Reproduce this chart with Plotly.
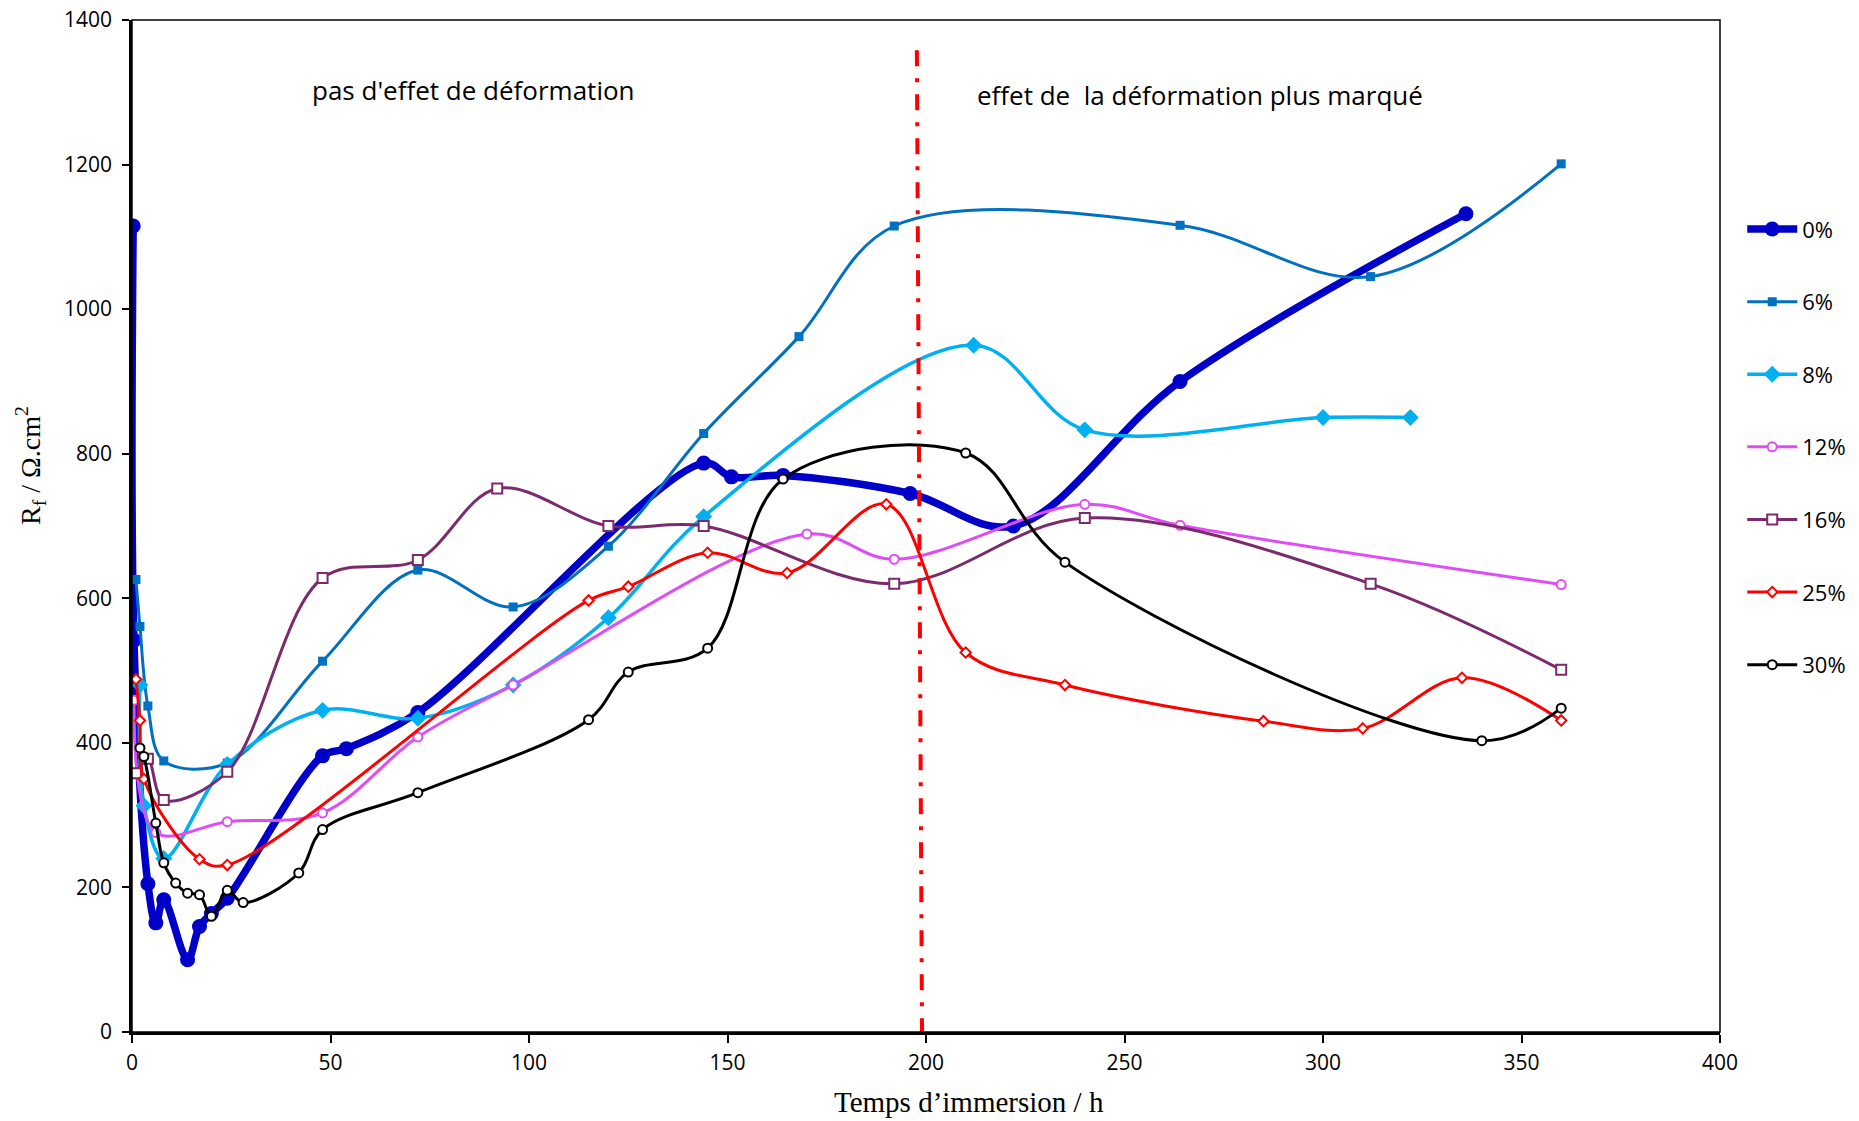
import plotly.graph_objects as go

# ---- data (time in h, Rf in ohm.cm2) ----
t_0 = [0.3, 0.5, 4, 6, 8, 14, 17, 20, 24, 48, 54, 72, 144, 151, 164, 196, 222, 264, 336]
r_0 = [1115, 542, 205, 151, 183, 100, 146, 164, 185, 382, 392, 442, 787, 768, 770, 745, 700, 900, 1132]

t_6 = [1, 2, 4, 8, 24, 48, 72, 96, 120, 144, 168, 192, 264, 312, 360]
r_6 = [626, 561, 451, 375, 372, 513, 639, 588, 672, 828, 962, 1115, 1116, 1045, 1201]

t_8 = [2, 3, 8, 24, 48, 72, 96, 120, 144, 212, 240, 300, 322]
r_8 = [480, 313, 240, 370, 445, 434, 480, 573, 713, 950, 833, 850, 850]

t_12 = [0.5, 6, 24, 48, 72, 96, 170, 192, 240, 264, 360]
r_12 = [459, 276, 291, 303, 408, 480, 689, 654, 730, 701, 619]

t_16 = [1, 4, 8, 24, 48, 72, 92, 120, 144, 192, 240, 312, 360]
r_16 = [358, 378, 321, 360, 628, 653, 752, 700, 700, 620, 711, 620, 501]

t_25 = [1, 2, 3, 17, 24, 115, 125, 145, 165, 190, 210, 235, 285, 310, 335, 360]
r_25 = [488, 431, 350, 239, 231, 597, 616, 663, 635, 730, 525, 480, 430, 420, 490, 431]

t_30 = [2, 3, 6, 8, 11, 14, 17, 20, 24, 28, 42, 48, 72, 115, 125, 145, 164, 210, 235, 340, 360]
r_30 = [393, 381, 289, 234, 206, 192, 190, 160, 196, 179, 220, 280, 331, 432, 498, 531, 765, 801, 650, 403, 448]

labels = ["0%", "6%", "8%", "12%", "16%", "25%", "30%"]

# vertical separator (time, Rf)
sep_t = [197.7, 199.0]
sep_r = [1358, 0]

x_ticks = [0, 50, 100, 150, 200, 250, 300, 350, 400]
y_ticks = [0, 200, 400, 600, 800, 1000, 1200, 1400]

note_left = "pas d'effet de déformation"
note_right = "effet de  la déformation plus marqué"

# ---- styles ----
series = [
    (t_0, r_0, labels[0], dict(color="#0000C8", width=7.5), dict(symbol="circle", size=15, color="#0000C8")),
    (t_6, r_6, labels[1], dict(color="#0070C0", width=3), dict(symbol="square", size=9, color="#0070C0")),
    (t_8, r_8, labels[2], dict(color="#00B0F0", width=3.5), dict(symbol="diamond", size=13, color="#00B0F0")),
    (t_12, r_12, labels[3], dict(color="#E04CF5", width=3), dict(symbol="circle", size=9, color="white",
                                                                  line=dict(color="#E04CF5", width=2))),
    (t_16, r_16, labels[4], dict(color="#7B2A6E", width=3), dict(symbol="square", size=10, color="white",
                                                                  line=dict(color="#7B2A6E", width=2))),
    (t_25, r_25, labels[5], dict(color="#FF0000", width=3), dict(symbol="diamond", size=8, color="white",
                                                                  line=dict(color="#FF0000", width=2))),
    (t_30, r_30, labels[6], dict(color="#000000", width=3), dict(symbol="circle", size=9, color="white",
                                                                  line=dict(color="#000000", width=2))),
]

fig = go.Figure()
for i, (tx, ry, name, ln, mk) in enumerate(series):
    fig.add_trace(go.Scatter(
        x=tx, y=ry, name=name, mode="lines+markers",
        line=dict(shape="spline", smoothing=1.0, **ln),
        marker=mk, legendgroup=f"g{i}",
    ))

fig.add_trace(go.Scatter(
    x=sep_t, y=sep_r, mode="lines", showlegend=False, hoverinfo="skip",
    line=dict(color="#FF0000", width=4, dash="16px,12px,4px,12px"),
))

FONT = "Open Sans"
fig.add_annotation(x=86, y=1303, text=note_left, showarrow=False,
                   font=dict(family=FONT, size=26, color="black"))
fig.add_annotation(x=269, y=1296, text=note_right, showarrow=False,
                   font=dict(family=FONT, size=26, color="black"))

# plot area on screen: x 132..1720, y 20..1032 (1588 x 1012)
PW, PH = 1588, 1012
fig.add_annotation(xref="paper", yref="paper", x=(969 - 132) / PW, y=(1032 - 1102) / PH,
                   xanchor="center", yanchor="middle",
                   text="Temps d\u2019immersion / h", showarrow=False,
                   font=dict(family="Liberation Serif", size=29, color="black"))
fig.add_annotation(xref="paper", yref="paper", x=(30 - 132) / PW, y=(1032 - 466) / PH,
                   xanchor="center", yanchor="middle",
                   text="R<sub>f</sub> / \u03a9.cm<sup>2</sup>", textangle=-90, showarrow=False,
                   font=dict(family="Liberation Serif", size=28, color="black"))

# frame
fig.add_shape(type="rect", xref="paper", yref="paper", x0=0, y0=0, x1=1, y1=1,
              line=dict(color="black", width=1.5), layer="above")

fig.update_layout(
    width=1859, height=1121,
    margin=dict(l=132, r=139, t=20, b=89, autoexpand=False),
    paper_bgcolor="white", plot_bgcolor="white",
    font=dict(family=FONT, size=20, color="black"),
    showlegend=True,
    legend=dict(x=1.014, y=0.814, xanchor="left", yanchor="top",
                font=dict(family=FONT, size=22), tracegroupgap=41,
                itemwidth=50, bgcolor="rgba(0,0,0,0)"),
    xaxis=dict(range=[0, 400], tickvals=x_ticks, showgrid=False, zeroline=False, automargin=False,
               showline=True, linecolor="black", linewidth=3,
               ticks="outside", ticklen=8, tickwidth=1.5, tickcolor="black",
               ticklabelstandoff=2, ticklabeloverflow="allow", tickfont=dict(family=FONT, size=21)),
    yaxis=dict(range=[0, 1400], tickvals=y_ticks, showgrid=False, zeroline=False, automargin=False,
               showline=True, linecolor="black", linewidth=2.5,
               ticks="outside", ticklen=7, tickwidth=1.5, tickcolor="black",
               ticklabelstandoff=6, ticklabeloverflow="allow", tickfont=dict(family=FONT, size=21)),
)

# remove the default page margin so the figure sits at the window's top-left corner
fig.write_html("out.html",
               config={"displayModeBar": False},
               post_script="document.body.style.margin='0px';document.body.style.overflow='hidden';")
